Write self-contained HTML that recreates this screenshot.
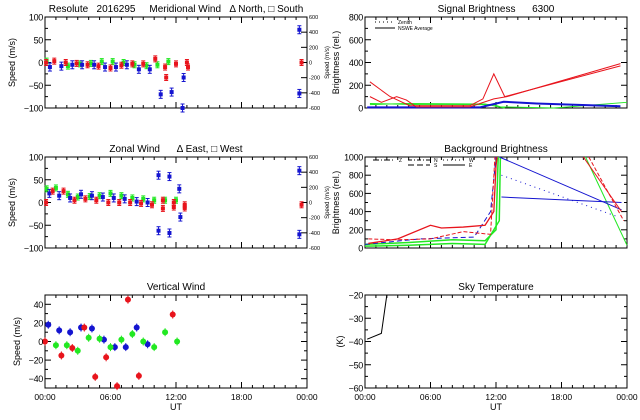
<!DOCTYPE html>
<html><head><meta charset="utf-8"><style>
html,body{margin:0;padding:0;background:#fff;}
svg{display:block;font-family:"Liberation Sans",sans-serif;}
text{white-space:pre;}
</style></head><body>
<svg id="c" width="640" height="420" viewBox="0 0 640 420"></svg>
<script>
// ---------- DATA ----------
const merGreen=[[0.15,3],[2.1,-8],[3.2,-3],[4.2,-2],[5.2,2],[6.2,2],[7.2,0],[8.2,-5],[9.3,-7],[10.3,-5],[11.3,2]];
const merBlue=[[0.45,-10],[1.5,-8],[2.5,-5],[3.4,-5],[4.5,-5],[5.5,-10],[6.5,-10],[7.5,-5],[8.6,-15],[9.6,-15],[10.6,-70],[11.6,-65],[12.6,-100],[12.7,-33],[23.3,72],[23.3,-68]];
const merRed=[[0.1,0],[0.85,3],[1.9,0],[2.9,-2],[3.9,-5],[4.9,-8],[6,-12],[7,-6],[8,-3],[9,-3],[10.1,8],[11,-10],[11.1,-33],[12,-3],[13,0],[13.1,-10],[23.5,0]];
const zonGreen=[[0.15,30],[1,32],[2.1,18],[3,12],[4.1,13],[5,15],[6,20],[7,15],[8,10],[9,8],[10,5],[11,5],[12,5]];
const zonBlue=[[0.4,20],[1.3,15],[2.3,10],[3.3,18],[4.3,15],[5.3,12],[6.3,10],[7.3,8],[8.4,2],[9.4,0],[10.4,60],[10.4,-62],[11.4,57],[11.4,-67],[12.3,30],[12.4,-32],[23.3,70],[23.3,-70]];
const zonRed=[[0.1,0],[0.7,25],[1.7,25],[2.7,5],[3.7,8],[4.7,5],[5.8,0],[6.8,0],[7.8,0],[8.8,-2],[9.8,-5],[10.8,5],[10.8,-13],[11.8,-10],[11.8,0],[12.8,-5],[12.8,-12],[23.5,-5]];
const verBlue=[[0.3,18],[1.3,12],[2.3,10],[3.3,15],[4.3,14],[5.4,2],[6.4,-6],[7.4,-6],[8.4,15],[9.4,-3]];
const verRed=[[0,0],[1.5,-15],[2.5,-7],[3.6,15],[4.6,-38],[5.6,-17],[6.6,-48],[7.6,45],[8.6,-37],[11.7,29]];
const verGreen=[[1,-4],[2,-4],[3,-10],[4,4],[5,3],[6,-6],[7,2],[8,8],[9,0],[10,-6],[11,10],[12.1,0]];
const sigRedA=[[0.45,230],[2.3,100],[4.1,20],[9.6,20],[10.8,80],[11.8,300],[12.8,100],[23.4,370]];
const sigRedB=[[0.45,100],[1.5,50],[2.9,100],[3.8,70],[4.7,10],[9.6,10],[11.8,80],[13,100],[23.4,390]];
const sigGreenA=[[0.45,40],[5,30],[11.8,30],[12.4,10],[17.3,0],[24,50]];
const sigGreenB=[[0.45,30],[3.8,40],[11,35],[12.8,0]];
const sigBlue=[[0.2,5],[10.5,5],[12.7,55],[15.7,40],[23.4,15]];
const bgRedA=[[0.3,50],[3,100],[6,250],[7,220],[9,230],[11,250],[11.8,400],[12,900],[12.1,1000]];
const bgRedB=[[0.3,100],[3,90],[6,100],[9,180],[11.5,150],[11.9,1000]];
const bgRedC=[[20,1000],[23.5,400]];
const bgRedD=[[20.5,1000],[23.7,300]];
const bgGreenA=[[0,40],[4,60],[8,90],[11,80],[12,200],[12.2,1000]];
const bgGreenB=[[0,20],[4,30],[8,50],[11,40],[12.3,300],[12.4,1000]];
const bgGreenC=[[20.2,1000],[24,30]];
const bgBlueA=[[0,40],[5,100],[10,120],[11.5,400],[12,1000]];
const bgBlueB=[[12.3,1000],[23.5,420]];
const bgBlueC=[[12.5,560],[23.5,500]];
const bgBlueD=[[12.5,800],[23,350]];
const skyTemp=[[0.2,-39],[1.5,-36.5],[2,-20]];
const xTickLabels=["00:00","06:00","12:00","18:00","00:00"];

// ---------- DRAW ----------
const svg=document.getElementById('c');
const NS='http://www.w3.org/2000/svg';
function mk(tag,at,parent){const e=document.createElementNS(NS,tag);for(const k in at)e.setAttribute(k,at[k]);(parent||svg).appendChild(e);return e;}
function txt(s,x,y,size,anchor,rot,name,ls){const t=mk('text',{x:x,y:y,'font-size':size,'text-anchor':anchor||'middle',fill:'#000'});
 if(ls)t.setAttribute('letter-spacing',ls);
 if(rot)t.setAttribute('transform','rotate(-90 '+x+' '+y+')');t.textContent=s;
 
 return t;}

function panel(cfg){
 const g=mk('g',{});
 
 
 const x0=cfg.x0,x1=cfg.x1,y0=cfg.y0,y1=cfg.y1;
 const X=t=>x0+t/24*(x1-x0);
 const Y=v=>y1-(v-cfg.ymin)/(cfg.ymax-cfg.ymin)*(y1-y0);
 const r=mk('rect',{x:x0,y:y0,width:x1-x0,height:y1-y0,fill:'none',stroke:'#000','stroke-width':1},g);
 
 
 for(let h=1;h<24;h++){const L=(h%6==0)?6:3;
  mk('line',{x1:X(h),x2:X(h),y1:y1,y2:y1-L,stroke:'#000'},g);
  mk('line',{x1:X(h),x2:X(h),y1:y0,y2:y0+L,stroke:'#000'},g);}
 cfg.yt.forEach(v=>{mk('line',{x1:x0,x2:x0+6,y1:Y(v),y2:Y(v),stroke:'#000'},g);
  if(!cfg.right)mk('line',{x1:x1,x2:x1-6,y1:Y(v),y2:Y(v),stroke:'#000'},g);
  txt(String(v).replace('-','\u2212'),x0-2,Y(v)+3.5,9,'end',false,'y-tick-label','-0.3');});
 (cfg.ym||[]).forEach(v=>{mk('line',{x1:x0,x2:x0+3,y1:Y(v),y2:Y(v),stroke:'#000'},g);
  if(!cfg.right)mk('line',{x1:x1,x2:x1-3,y1:Y(v),y2:Y(v),stroke:'#000'},g);});
 if(cfg.right){[600,400,200,0,-200,-400,-600].forEach((v,i)=>{const yy=y0+i*(y1-y0)/6;
  mk('line',{x1:x1,x2:x1-6,y1:yy,y2:yy,stroke:'#000'},g);
  txt(String(v),x1+2,yy+2,5.5,'start',false,'right-tick-label');});
  txt('Speed (m/s)',x1+22,(y0+y1)/2,6,'middle',true,'right-axis-title');}
 txt(cfg.title,(x0+x1)/2,y0-5,10,'middle',false,'panel-title');
 txt(cfg.ylab,cfg.ylx,(y0+y1)/2,9,'middle',true,'y-axis-title');
 if(cfg.xl){xTickLabels.forEach((s,i)=>txt(s,x0+i*(x1-x0)/4,y1+12,8.5,'middle',false,'x-tick-label'));
  txt('UT',(x0+x1)/2,y1+22,9,'middle',false,'x-axis-title');}
 return {g,X,Y};
}
function scatter(p,data,col,name,err){
 data.forEach(d=>{const x=p.X(d[0]),y=p.Y(d[1]);
  const e=mk('g',{},p.g);
  
  
  mk('line',{x1:x,x2:x,y1:y-err,y2:y+err,stroke:col},e);
  mk('line',{x1:x-2,x2:x+2,y1:y-err,y2:y-err,stroke:col},e);
  mk('line',{x1:x-2,x2:x+2,y1:y+err,y2:y+err,stroke:col},e);
  mk('rect',{x:x-2,y:y-2,width:4,height:4,fill:col},e);});
}
function dots(p,data,col,name){
 data.forEach(d=>{const x=p.X(d[0]),y=p.Y(d[1]);
  const c=mk('circle',{cx:x,cy:y,r:3,fill:col},p.g);
  
  
  mk('line',{x1:x,x2:x,y1:y-4,y2:y+4,stroke:col},p.g);});
}
function line(p,data,col,name,w,dash){
 const pl=mk('polyline',{points:data.map(d=>p.X(d[0])+','+Math.max(p.Y.top,p.Y(d[1]))).join(' '),fill:'none',stroke:col,'stroke-width':w||1},p.g);
 if(dash)pl.setAttribute('stroke-dasharray',dash);
 
 
}
const R='#e8141c',G='#22e822',B='#1414d0';
const L0=45,L1=307,R0=365,R1=627;
const p1=panel({name:'meridional-wind-panel',x0:L0,x1:L1,y0:17,y1:108,ymin:-100,ymax:100,yt:[-100,-50,0,50,100],ym:[-75,-25,25,75],right:true,title:'Resolute   2016295     Meridional Wind   \u0394 North, \u25A1 South',ylab:'Speed (m/s)',ylx:15});
scatter(p1,merGreen,G,'meridional-green',3);scatter(p1,merBlue,B,'meridional-blue',4);scatter(p1,merRed,R,'meridional-red',3);
const p2=panel({name:'zonal-wind-panel',x0:L0,x1:L1,y0:157,y1:248,ymin:-100,ymax:100,yt:[-100,-50,0,50,100],ym:[-75,-25,25,75],right:true,title:'Zonal Wind      \u0394 East, \u25A1 West',ylab:'Speed (m/s)',ylx:15});
scatter(p2,zonGreen,G,'zonal-green',3);scatter(p2,zonBlue,B,'zonal-blue',4);scatter(p2,zonRed,R,'zonal-red',3);
const p3=panel({name:'vertical-wind-panel',x0:L0,x1:L1,y0:295,y1:388,ymin:-50,ymax:50,yt:[-40,-20,0,20,40],ym:[-30,-10,10,30],title:'Vertical Wind',ylab:'Speed (m/s)',ylx:20,xl:true});
dots(p3,verBlue,B,'vertical-blue');dots(p3,verRed,R,'vertical-red');dots(p3,verGreen,G,'vertical-green');
const p4=panel({name:'signal-brightness-panel',x0:R0,x1:R1,y0:17,y1:108,ymin:0,ymax:800,yt:[0,200,400,600,800],ym:[100,300,500,700],title:'Signal Brightness      6300',ylab:'Brightness (rel.)',ylx:339});
p4.Y.top=17;
line(p4,sigGreenA,G,'signal-green');line(p4,sigGreenB,G,'signal-green-2');line(p4,sigBlue,B,'signal-blue',2);
line(p4,sigRedA,R,'signal-red');line(p4,sigRedB,R,'signal-red-2');
mk('line',{x1:375,x2:395,y1:22,y2:22,stroke:'#000','stroke-dasharray':'1 3'});
mk('line',{x1:375,x2:395,y1:28,y2:28,stroke:'#000'});
txt('Zenith',398,24,5,'start',false,'legend-zenith');txt('NSWE Average',398,30,5,'start',false,'legend-average');
const p5=panel({name:'background-brightness-panel',x0:R0,x1:R1,y0:157,y1:248,ymin:0,ymax:1000,yt:[0,200,400,600,800,1000],ym:[100,300,500,700,900],title:'Background Brightness',ylab:'Brightness (rel.)',ylx:339});
p5.Y.top=157;
line(p5,bgGreenA,G,'bg-green',1.5);line(p5,bgGreenB,G,'bg-green-2',1.5);line(p5,bgGreenC,G,'bg-green-3');
line(p5,bgBlueA,B,'bg-blue',1,'5 3');line(p5,bgBlueB,B,'bg-blue-2');line(p5,bgBlueC,B,'bg-blue-3');line(p5,bgBlueD,B,'bg-blue-4',1,'1 4');
line(p5,bgRedA,R,'bg-red',1.3);line(p5,bgRedB,R,'bg-red-2',1,'4 2');line(p5,bgRedC,R,'bg-red-3');line(p5,bgRedD,R,'bg-red-4',1,'4 2');
[['Z',373,162,'6 2 1 2'],['N',408,162,'4 2 1 2'],['S',408,167,'6 3'],['W',443,162,'1 3'],['E',443,167,null]].forEach(a=>{
 const l=mk('line',{x1:a[1],x2:a[1]+22,y1:a[2]-2,y2:a[2]-2,stroke:'#000'});if(a[3])l.setAttribute('stroke-dasharray',a[3]);
 txt(a[0],a[1]+26,a[2],5,'start',false,'legend-'+a[0]);});
const p6=panel({name:'sky-temperature-panel',x0:R0,x1:R1,y0:295,y1:388,ymin:-60,ymax:-20,yt:[-60,-50,-40,-30,-20],ym:[-55,-45,-35,-25],title:'Sky Temperature',ylab:'(K)',ylx:343,xl:true});
p6.Y.top=295;
line(p6,skyTemp,'#000','sky-temperature-line');
</script>
</body></html>
